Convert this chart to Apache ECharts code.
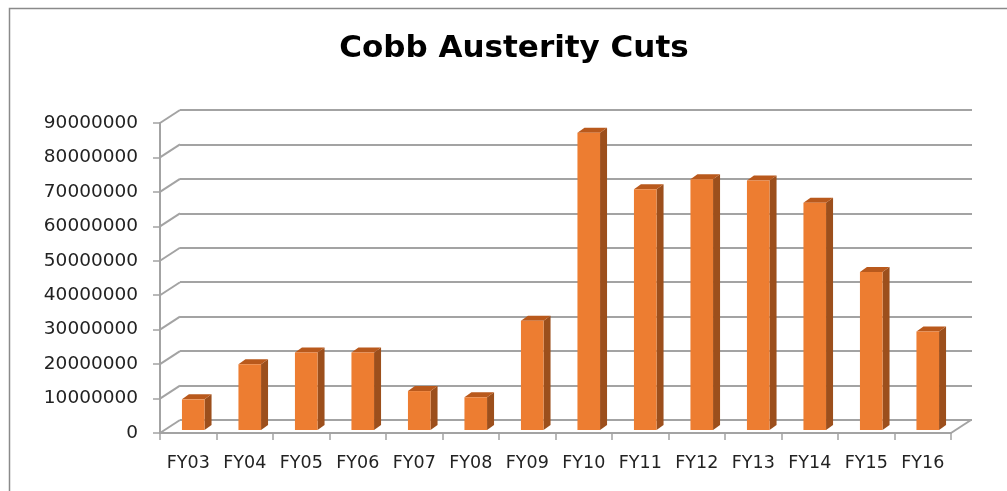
<!DOCTYPE html>
<html>
<head>
<meta charset="utf-8">
<script src="https://cdn.jsdelivr.net/npm/echarts@6/dist/echarts.min.js"></script>
<style>html,body{margin:0;padding:0;background:#fff;}#c{width:1007px;height:491px;}</style>
</head>
<body>
<div id="c"></div>
<script>
const chartTitle = 'Cobb Austerity Cuts';
const categories = ['FY03','FY04','FY05','FY06','FY07','FY08','FY09','FY10','FY11','FY12','FY13','FY14','FY15','FY16'];
const cuts = [8900000, 19100000, 22500000, 22500000, 11300000, 9500000, 31700000, 86300000, 69900000, 72800000, 72400000, 66000000, 45900000, 28600000];
const yMin = 0;
const yMax = 90000000;
const yInterval = 10000000;

const yTicks = [];
for (let v = yMin; v <= yMax; v += yInterval) yTicks.push(v);

const FONT = 'DejaVu Sans';
const GRID_COLOR = '#a3a3a3';
// perspective depth (style)
const WALL_DX = 20, WALL_DY = -13;
const BAR_DX = 5, BAR_DY = -3;
const SIDE_DX = 7, SIDE_DY = -5;

const chart = echarts.init(document.getElementById('c'), null, {renderer: 'canvas'});

chart.setOption({
  animation: false,
  backgroundColor: '#ffffff',
  graphic: [
    {type: 'rect', shape: {x: 9.5, y: 8.5, width: 1100, height: 600},
     style: {fill: 'none', stroke: '#8a8a8a', lineWidth: 1.5}, silent: true, z: -10},
    {type: 'text', x: 514, y: 49,
     style: {text: chartTitle, font: 'bold 31px "DejaVu Sans"', fill: '#000', textAlign: 'center', textVerticalAlign: 'middle'}}
  ],
  grid: [
    {left: 160, top: 123, width: 791, height: 310, containLabel: false},
    {left: 180, top: 110, width: 792, height: 310, containLabel: false}
  ],
  xAxis: [
    {type: 'category', gridIndex: 0, data: categories, boundaryGap: true,
     axisLine: {show: true, lineStyle: {color: GRID_COLOR, width: 2}},
     axisTick: {show: true, interval: 0, length: 7, lineStyle: {color: GRID_COLOR, width: 1.5}},
     axisLabel: {interval: 0, margin: 21, fontFamily: FONT, fontSize: 17.5, color: '#222'},
     splitLine: {show: false}},
    {type: 'category', gridIndex: 1, data: categories, show: false}
  ],
  yAxis: [
    {type: 'value', gridIndex: 0, min: yMin, max: yMax, interval: yInterval,
     axisLine: {show: true, lineStyle: {color: GRID_COLOR, width: 2}},
     axisTick: {show: true, length: 7, lineStyle: {color: GRID_COLOR, width: 1.5}},
     axisLabel: {margin: 22, fontFamily: FONT, fontSize: 18.5, color: '#222', formatter: v => String(v)},
     splitLine: {show: false}},
    {type: 'value', gridIndex: 1, min: yMin, max: yMax, interval: yInterval,
     axisLine: {show: false}, axisTick: {show: false}, axisLabel: {show: false},
     splitLine: {show: true, lineStyle: {color: GRID_COLOR, width: 2}}}
  ],
  series: [
    {
      type: 'custom', name: 'walls', xAxisIndex: 0, yAxisIndex: 0, z: 1, silent: true,
      data: yTicks.map(v => [0, v]),
      encode: {x: 0, y: 1},
      clip: false,
      renderItem: function (params, api) {
        const cs = params.coordSys;
        const v = api.value(1);
        const y = api.coord([0, v])[1];
        const children = [{
          type: 'line',
          shape: {x1: cs.x, y1: y, x2: cs.x + WALL_DX, y2: y + WALL_DY},
          style: {stroke: GRID_COLOR, lineWidth: 2}
        }];
        if (v === yMin) {
          children.push({
            type: 'line',
            shape: {x1: cs.x + cs.width, y1: y, x2: cs.x + cs.width + WALL_DX, y2: y + WALL_DY},
            style: {stroke: GRID_COLOR, lineWidth: 2}
          });
        }
        return {type: 'group', children: children};
      }
    },
    {
      type: 'custom', name: 'Cuts', xAxisIndex: 0, yAxisIndex: 0, z: 3,
      data: cuts.map((v, i) => [i, v]),
      encode: {x: 0, y: 1},
      renderItem: function (params, api) {
        const i = api.value(0), v = api.value(1);
        const top = api.coord([i, v]);
        const base = api.coord([i, 0]);
        const w = api.size([1, 0])[0] * 0.4;
        const x0 = top[0] + BAR_DX - w / 2;
        const x1 = x0 + w;
        const yT = top[1] + BAR_DY;
        const yB = base[1] + BAR_DY;
        return {
          type: 'group',
          children: [
            {type: 'polygon', shape: {points: [[x1, yT], [x1 + SIDE_DX, yT + SIDE_DY], [x1 + SIDE_DX, yB + SIDE_DY], [x1, yB]]},
             style: {fill: '#9c4f1c'}},
            {type: 'polygon', shape: {points: [[x0, yT], [x0 + SIDE_DX, yT + SIDE_DY], [x1 + SIDE_DX, yT + SIDE_DY], [x1, yT]]},
             style: {fill: '#b9591c'}},
            {type: 'rect', shape: {x: x0, y: yT, width: w, height: yB - yT},
             style: {fill: '#ed7d31'}}
          ]
        };
      }
    }
  ]
});
</script>
</body>
</html>
